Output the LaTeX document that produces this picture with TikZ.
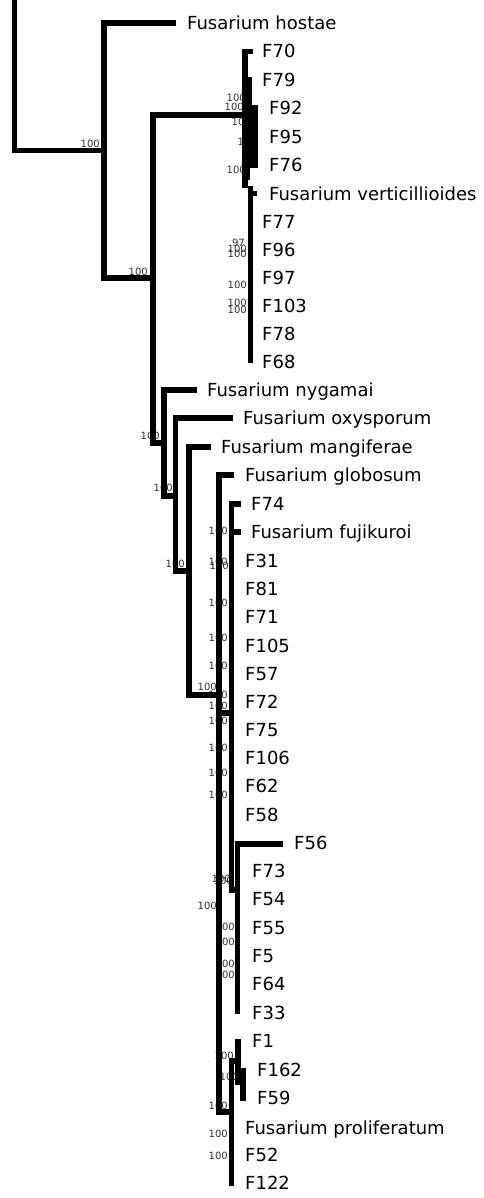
\documentclass[tikz,border=0pt]{standalone}
\usepackage{fontspec}
\setmainfont{DejaVu Sans}
\tikzset{
  leaf/.style={anchor=base west, inner sep=0pt, yshift=-6.5pt, font=\fontsize{18}{18}\selectfont},
  boot/.style={anchor=base east, inner sep=0pt, yshift=-3.6pt, font=\fontsize{10}{10}\selectfont, text=black!80},
  br/.style={line width=5.5pt, line cap=butt, line join=miter},
}
\begin{document}
\begin{tikzpicture}[x=1pt,y=-1pt]
\fill[white] (0,0) rectangle (484,1198);
\useasboundingbox (0,0) rectangle (484,1198);
% ---------- leaf labels ----------
\node[leaf] (hostae) at (187,23) {Fusarium hostae};
\node[leaf] (f70) at (262,51) {F70};
\node[leaf] (f79) at (262,80) {F79};
\node[leaf] (f92) at (269,108) {F92};
\node[leaf] (f95) at (269,137) {F95};
\node[leaf] (f76) at (269,165) {F76};
\node[leaf] (vert) at (269,194) {Fusarium verticillioides};
\node[leaf] (f77) at (262,222) {F77};
\node[leaf] (f96) at (262,250) {F96};
\node[leaf] (f97) at (262,278) {F97};
\node[leaf] (f103) at (262,306) {F103};
\node[leaf] (f78) at (262,334) {F78};
\node[leaf] (f68) at (262,362) {F68};
\node[leaf] (nyg) at (207,390) {Fusarium nygamai};
\node[leaf] (oxy) at (243,418) {Fusarium oxysporum};
\node[leaf] (mang) at (221,447) {Fusarium mangiferae};
\node[leaf] (glob) at (245,475) {Fusarium globosum};
\node[leaf] (f74) at (251,504) {F74};
\node[leaf] (fuji) at (251,532) {Fusarium fujikuroi};
\node[leaf] (f31) at (245,561) {F31};
\node[leaf] (f81) at (245,589) {F81};
\node[leaf] (f71) at (245,617) {F71};
\node[leaf] (f105) at (245,646) {F105};
\node[leaf] (f57) at (245,674) {F57};
\node[leaf] (f72) at (245,702) {F72};
\node[leaf] (f75) at (245,730) {F75};
\node[leaf] (f106) at (245,758) {F106};
\node[leaf] (f62) at (245,786) {F62};
\node[leaf] (f58) at (245,815) {F58};
\node[leaf] (f56) at (294,843) {F56};
\node[leaf] (f73) at (252,871) {F73};
\node[leaf] (f54) at (252,899) {F54};
\node[leaf] (f55) at (252,928) {F55};
\node[leaf] (f5) at (252,956) {F5};
\node[leaf] (f64) at (252,984) {F64};
\node[leaf] (f33) at (252,1013) {F33};
\node[leaf] (f1) at (252,1041) {F1};
\node[leaf] (f162) at (257,1070) {F162};
\node[leaf] (f59) at (257,1098) {F59};
\node[leaf] (prol) at (245,1128) {Fusarium proliferatum};
\node[leaf] (f52) at (245,1155) {F52};
\node[leaf] (f122) at (245,1183) {F122};
% ---------- support values ----------
\node[boot] (b1) at (100,144) {100};
\node[boot] (b2) at (148,272) {100};
\node[boot] (b3) at (246,98) {100};
\node[boot] (b4) at (244,107) {100};
\node[boot] (b5) at (251,122) {100};
\node[boot] (b6) at (257,142) {100};
\node[boot] (b7) at (246,170) {100};
\node[boot] (b8) at (245,243) {97};
\node[boot] (b9) at (247,249) {100};
\node[boot] (b10) at (247,254) {100};
\node[boot] (b11) at (247,285) {100};
\node[boot] (b12) at (247,303) {100};
\node[boot] (b13) at (247,310) {100};
\node[boot] (b14) at (160,436) {100};
\node[boot] (b15) at (173,488) {100};
\node[boot] (b16) at (185,564) {100};
\node[boot] (b17) at (228,531) {100};
\node[boot] (b18) at (228,562) {100};
\node[boot] (b19) at (229,566) {100};
\node[boot] (b20) at (228,603) {100};
\node[boot] (b21) at (228,638) {100};
\node[boot] (b22) at (228,666) {100};
\node[boot] (b23) at (217,687) {100};
\node[boot] (b24) at (228,695) {100};
\node[boot] (b25) at (228,706) {100};
\node[boot] (b26) at (228,721) {100};
\node[boot] (b27) at (228,748) {100};
\node[boot] (b28) at (228,773) {100};
\node[boot] (b29) at (228,795) {100};
\node[boot] (b30) at (231,879) {100};
\node[boot] (b31) at (233,881) {100};
\node[boot] (b32) at (217,906) {100};
\node[boot] (b33) at (235,927) {100};
\node[boot] (b34) at (235,942) {100};
\node[boot] (b35) at (235,964) {100};
\node[boot] (b36) at (235,975) {100};
\node[boot] (b37) at (234,1056) {100};
\node[boot] (b38) at (239,1077) {100};
\node[boot] (b39) at (228,1106) {100};
\node[boot] (b40) at (228,1134) {100};
\node[boot] (b41) at (228,1156) {100};
% ---------- tree nodes ----------
\coordinate (top) at (14.5,0);
\coordinate (n1) at (104,150.5);
\coordinate (thostae) at (176,23);
\coordinate (n2) at (153,278);
\coordinate (tverti) at (245,115);
\coordinate (n3) at (164,443);
\coordinate (tnyg) at (197,390);
\coordinate (n4) at (175.5,496);
\coordinate (toxy) at (233,418);
\coordinate (n5) at (189,571);
\coordinate (tmang) at (211,447);
\coordinate (n6) at (219,695);
\coordinate (tglob) at (234,475);
\coordinate (n7) at (231.5,713);
\coordinate (tf74) at (241,504);
\coordinate (tfuji) at (241,532);
\coordinate (n8) at (237.5,890);
\coordinate (tf56) at (283,844);
\coordinate (n9) at (231.5,1112);
\coordinate (n10) at (238,1061);
% ---------- branches ----------
\draw[br] (top) |- (n1);
\draw[br] (thostae) -| (n1 |- n2) -- (n2);
\draw[br] (tverti) -| (n2 |- n3) -- (n3);
\draw[br] (tnyg) -| (n3 |- n4) -- (n4);
\draw[br] (toxy) -| (n4 |- n5) -- (n5);
\draw[br] (tmang) -| (n5 |- n6) -- (n6);
\draw[br] (tglob) -| (n6 |- n9) -- (n9);
\draw[br] (n6 |- n7) -- (n7);
\draw[br] (tf74) -| (n7 |- n8) -- (n8);
\draw[br] (tfuji) -- (n7 |- tfuji);
\draw[br] (tf56) -| (237.5,1014);
\draw[br] (n10) -| (231.5,1186);
\draw[br] (238,1039) -- (238,1085);
\fill (235.5,1068) rectangle (246,1085);
\draw[br] (243,1068) -- (243,1101);
% verticillioides clade (collapsed, very short branches)
\fill (242,49) rectangle (247.5,188);
\fill (242,49) rectangle (253,54);
\fill (242,77) rectangle (252,105);
\fill (242,105) rectangle (258,168);
\fill (242,168) rectangle (250,180);
\fill (247.5,186) rectangle (253,363);
\fill (247.5,191.5) rectangle (257,196.5);
\end{tikzpicture}
\end{document}
